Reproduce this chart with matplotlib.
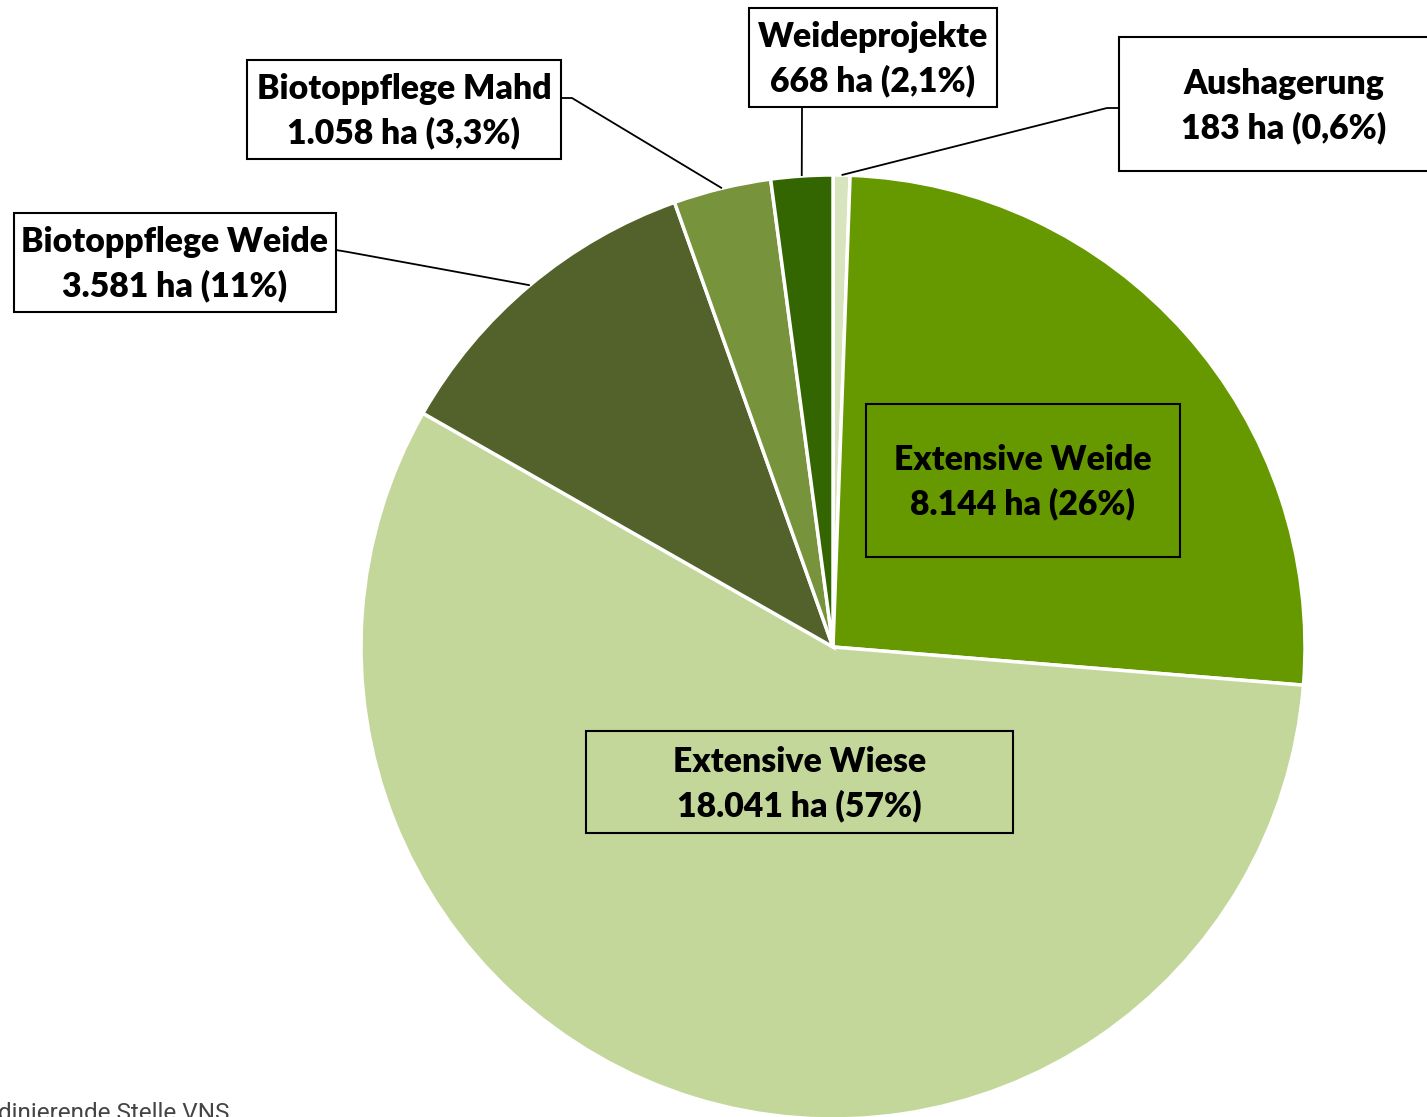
import numpy as np
import matplotlib
import matplotlib.pyplot as plt
from matplotlib.patches import Rectangle

matplotlib.use('Agg')

# data (ha), pie runs clockwise from 12 o'clock
names = ['Aushagerung', 'Extensive Weide', 'Extensive Wiese',
         'Biotoppflege Weide', 'Biotoppflege Mahd', 'Weideprojekte']
areas = [183, 8144, 18041, 3581, 1058, 668]
area_labels = ['183 ha (0,6%)', '8.144 ha (26%)', '18.041 ha (57%)',
               '3.581 ha (11%)', '1.058 ha (3,3%)', '668 ha (2,1%)']
colors = ['#D7E4BD', '#669900', '#C4D79B', '#52622A', '#77933C', '#336600']

W, H = 1427, 1117
CX, CY, R = 833, 647, 472


def px(x, y):
    # pixel position -> data position (pie radius = 1)
    return (x - CX) / R, (CY - y) / R


fig = plt.figure(figsize=(W / 100, H / 100), dpi=100)
ax = fig.add_axes([0, 0, 1, 1])

wedges, _ = ax.pie(areas, colors=colors, startangle=90, counterclock=False,
                   radius=1, center=(0, 0), frame=True,
                   wedgeprops=dict(edgecolor='white', linewidth=2.5))
ax.set_xlim(px(0, 0)[0], px(W, 0)[0])
ax.set_ylim(px(0, H)[1], px(0, 0)[1])
ax.set_aspect('auto')
ax.axis('off')

font = dict(family='Lato', fontweight='heavy', fontsize=24.3)

# box: (left, top, right, bottom) in pixels, fill, leader elbow (pixels) or None
boxes = {
    'Aushagerung': ((1119, 37, 1440, 171), 'white', [(1119, 108), (1107, 108)]),
    'Extensive Weide': ((866, 404, 1180, 557), colors[1], None),
    'Extensive Wiese': ((586, 731, 1013, 833), colors[2], None),
    'Biotoppflege Weide': ((14, 213, 336, 312), 'white', [(336, 250), (348, 252)]),
    'Biotoppflege Mahd': ((247, 60, 561, 159), 'white', [(561, 98), (572, 98)]),
    'Weideprojekte': ((749, 8, 997, 107), 'white', [(802, 107)]),
}
text_x = {'Aushagerung': 1284}

for w, name, lab in zip(wedges, names, area_labels):
    (l, t, r, b), fill, leader = boxes[name]
    x0, y0 = px(l, b)
    x1, y1 = px(r, t)
    ax.add_patch(Rectangle((x0, y0), x1 - x0, y1 - y0, facecolor=fill,
                           edgecolor='black', linewidth=1.5, zorder=5))
    tx = text_x.get(name, (l + r) / 2)
    cx, cy = px(tx, (t + b) / 2 + 2)
    ax.text(cx, cy, name + '\n' + lab, ha='center', va='center',
            linespacing=1.42, color='black', zorder=6, **font)
    if leader:
        ang = np.deg2rad((w.theta1 + w.theta2) / 2)
        pts = [px(*p) for p in leader] + [(np.cos(ang), np.sin(ang))]
        ax.plot([p[0] for p in pts], [p[1] for p in pts], color='black',
                linewidth=1.3, zorder=4, solid_capstyle='butt')

# source line, cut by the left and bottom edges as in the original
fx, fy = px(229, 1120)
ax.text(fx, fy, 'Koordinierende Stelle VNS', ha='right', va='baseline',
        family='Roboto', fontsize=17.5, color='#444444')

fig.savefig('out.png', dpi=100)
